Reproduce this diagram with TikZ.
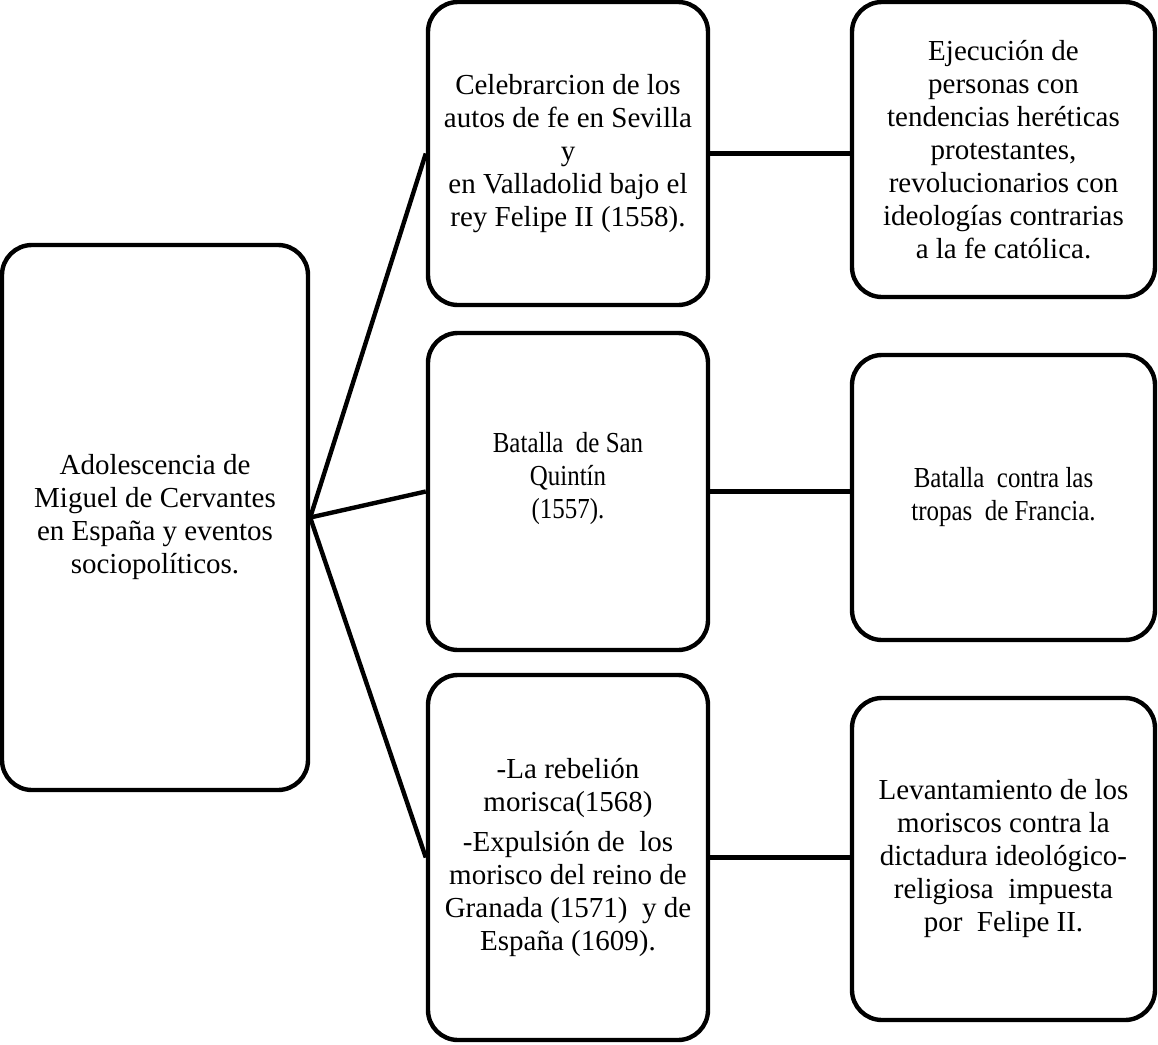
\documentclass[tikz,border=0pt]{standalone}
\usepackage{fontspec}
\setmainfont{Liberation Serif}
\newfontfamily\narrowserif[FakeStretch=0.86]{Liberation Serif}
\begin{document}
\begin{tikzpicture}[x=0.5pt,y=-0.5pt,
    caja/.style={draw,line width=2.2pt,rounded corners=15pt,align=center,inner sep=2pt,
      font=\fontsize{14.5pt}{16.5pt}\selectfont},
    enlace/.style={line width=2.2pt}]
    \useasboundingbox (0,0) rectangle (1158,1045);
    \node[caja,minimum width=153pt,minimum height=272.5pt](adol) at (155,517.5) {Adolescencia de\\Miguel de Cervantes\\en España y eventos\\sociopolíticos.};
    \node[caja,minimum width=140pt,minimum height=151.5pt](celeb) at (568,153.5) {Celebrarcion de los\\autos de fe en Sevilla\\y\\en Valladolid bajo el\\rey Felipe II (1558).};
    \node[caja,minimum width=140pt,minimum height=158.5pt,font=\fontsize{14.5pt}{16.5pt}\narrowserif](batalla) at (568,491.5) {Batalla\ \ de San\\Quintín\\(1557).\\\rule{0pt}{12pt}};
    \node[caja,minimum width=140pt,minimum height=182.5pt](moris) at (568,857.5) {-La rebelión\\morisca(1568)\\[3.5pt]-Expulsión de\ \ los\\morisco del reino de\\Granada (1571)\ \ y de\\España (1609).};
    \node[caja,minimum width=151.5pt,minimum height=147.5pt](ejec) at (1003.5,149.5) {Ejecución de\\personas con\\tendencias heréticas\\protestantes,\\revolucionarios con\\ideologías contrarias\\a la fe católica.};
    \node[caja,minimum width=151.5pt,minimum height=142.5pt,font=\fontsize{14.5pt}{16.5pt}\narrowserif](contra) at (1003.5,497.5) {Batalla\ \ contra las\\tropas\ \ de Francia.};
    \node[caja,minimum width=151.5pt,minimum height=161pt](levant) at (1003.5,859) {Levantamiento de los\\moriscos contra la\\dictadura ideológico-\\religiosa\ \ impuesta\\por\ \ Felipe II.};
    \draw[enlace] (adol.east) -- (celeb.west);
    \draw[enlace] (adol.east) -- (batalla.west);
    \draw[enlace] (adol.east) -- (moris.west);
    \draw[enlace] (celeb.east) -- (celeb.east -| ejec.west);
    \draw[enlace] (batalla.east) -- (batalla.east -| contra.west);
    \draw[enlace] (moris.east) -- (moris.east -| levant.west);
\end{tikzpicture}
\end{document}
